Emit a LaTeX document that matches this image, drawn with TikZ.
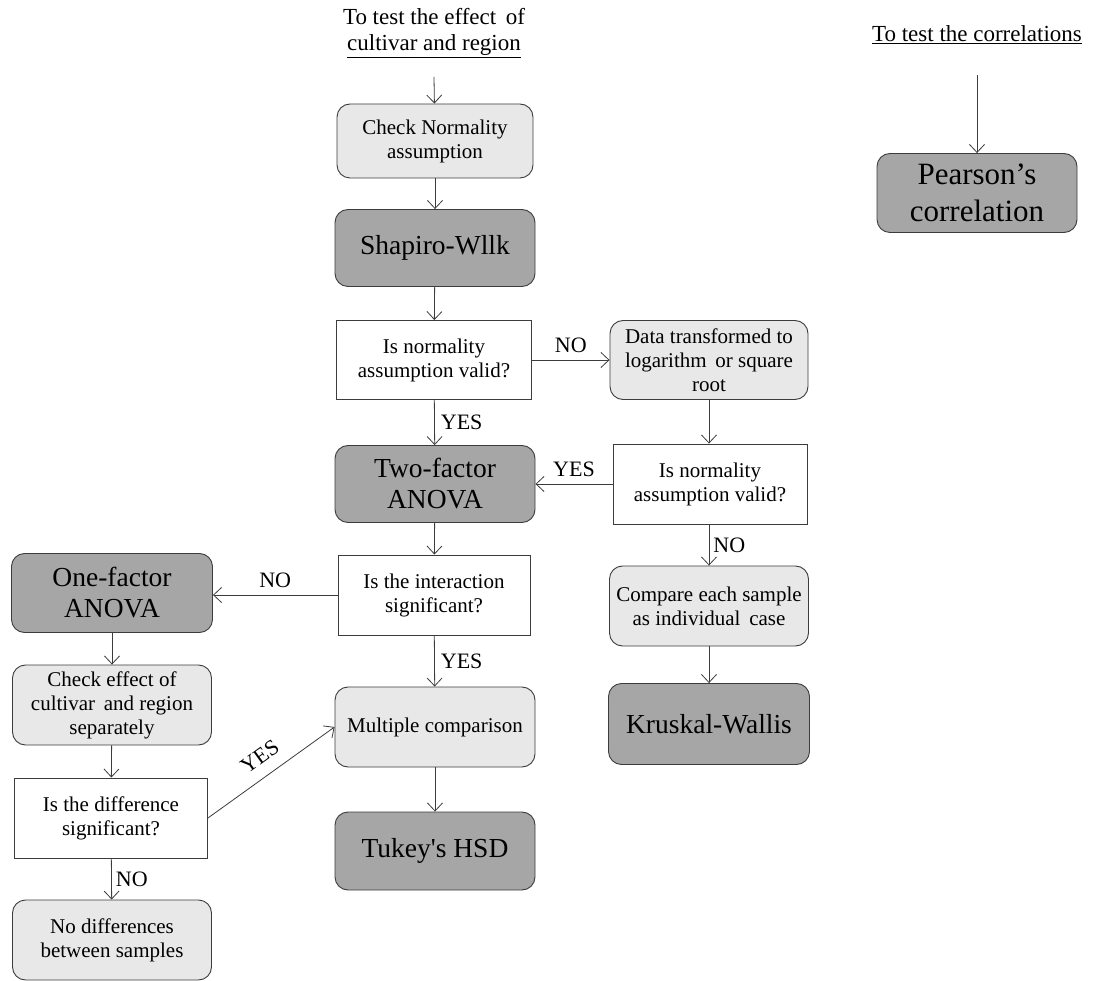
\documentclass[tikz,border=0pt]{standalone}
\usepackage{fontspec}
\setmainfont{Liberation Serif}[Ligatures=TeXOff]
\usetikzlibrary{arrows.meta}
\definecolor{lightbox}{HTML}{E8E8E8}
\definecolor{darkbox}{HTML}{A6A6A6}
\definecolor{edge}{HTML}{3C3C3C}
\begin{document}
\begin{tikzpicture}[x=1pt,y=-1pt,
  base/.style={draw=edge, line width=0.9pt, align=center, inner sep=2pt, text=black},
  stepbox/.style={base, rounded corners=13pt, fill=lightbox, font=\fontsize{21}{24}\selectfont},
  testbox/.style={base, rounded corners=13pt, fill=darkbox, font=\fontsize{27.5}{31}\selectfont},
  askbox/.style={base, fill=white, font=\fontsize{21}{24}\selectfont},
  plain/.style={align=center, font=\fontsize{23}{26}\selectfont},
  lbl/.style={font=\fontsize{22}{24}\selectfont, inner sep=1pt},
  flow/.style={draw=edge, line width=0.8pt, -{Straight Barb[length=8pt,width=15pt,line width=0.8pt]}}
]
\useasboundingbox (0,0) rectangle (1093,981);

% headings
\node[plain] (head1) at (434,33) {To test the effect\, of\\\underline{cultivar and region}};
\node[plain] (head2) at (977,35) {\underline{To test the correlations}};
\coordinate (h1end) at (434,77);
\coordinate (h2end) at (977,75);

% central column
\node[stepbox, minimum width=196pt, minimum height=74pt] (chk) at (435,141) {Check Normality\\assumption};
\node[testbox, minimum width=200pt, minimum height=77pt] (shap) at (435,248) {Shapiro-Wllk};
\node[askbox, minimum width=195pt, minimum height=79pt] (q1) at (434,360) {Is normality\\assumption valid?};
\node[testbox, minimum width=200pt, minimum height=77pt] (two) at (435,484) {Two-factor\\ANOVA};
\node[askbox, minimum width=192pt, minimum height=80pt] (q3) at (434,595) {Is the interaction\\significant?};
\node[stepbox, minimum width=200pt, minimum height=80pt] (multi) at (435,727) {Multiple comparison};
\node[testbox, minimum width=200pt, minimum height=78pt] (tukey) at (435,851) {Tukey's HSD};

% right column
\node[stepbox, minimum width=198pt, minimum height=79pt] (trans) at (709,360) {Data transformed to\\logarithm\, or square\\root};
\node[askbox, minimum width=194pt, minimum height=80pt] (q2) at (710,484) {Is normality\\assumption valid?};
\node[stepbox, minimum width=199pt, minimum height=80pt] (cmp) at (709,606) {Compare each sample\\as individual\, case};
\node[testbox, minimum width=201pt, minimum height=81pt] (krus) at (709,724) {Kruskal-Wallis};

% left column
\node[testbox, minimum width=201pt, minimum height=79pt] (one) at (112,593) {One-factor\\ANOVA};
\node[stepbox, minimum width=199pt, minimum height=80pt] (eff) at (112,705) {Check effect of\\cultivar\, and region\\separately};
\node[askbox, minimum width=193pt, minimum height=80pt] (q4) at (111,818) {Is the difference\\significant?};
\node[stepbox, minimum width=199pt, minimum height=80pt] (none) at (112,940) {No differences\\between samples};

% correlation branch
\node[testbox, font=\fontsize{31}{37}\selectfont, minimum width=200pt, minimum height=79pt] (pear) at (977,193) {Pearson’s\\correlation};

% connectors
\draw[flow] (h1end) -- (chk);
\draw[flow] (chk) -- (shap);
\draw[flow] (shap) -- (q1);
\draw[flow] (q1.east) -- node[lbl, above=6pt] {NO} (trans.west);
\draw[flow] (q1) -- node[lbl, right=5pt] {YES} (two);
\draw[flow] (trans) -- (q2.north -| trans);
\draw[flow] (q2.west) -- node[lbl, above=6pt] {YES} (two.east);
\draw[flow] (q2.south -| cmp) -- node[lbl, right=3pt] {NO} (cmp);
\draw[flow] (cmp) -- (krus);
\draw[flow] (two) -- (q3);
\draw[flow] (q3.west) -- node[lbl, above=6pt] {NO} (one.east |- q3.west);
\draw[flow] (q3) -- node[lbl, right=5pt] {YES} (multi);
\draw[flow] (multi) -- (tukey);
\draw[flow] (one) -- (eff);
\draw[flow] (eff) -- (q4);
\draw[flow] (q4.east) -- node[lbl, sloped, above=11pt] {YES} (multi.west);
\draw[flow] (q4) -- node[lbl, right=3pt] {NO} (none);
\draw[flow] (h2end) -- (pear);
\end{tikzpicture}
\end{document}
